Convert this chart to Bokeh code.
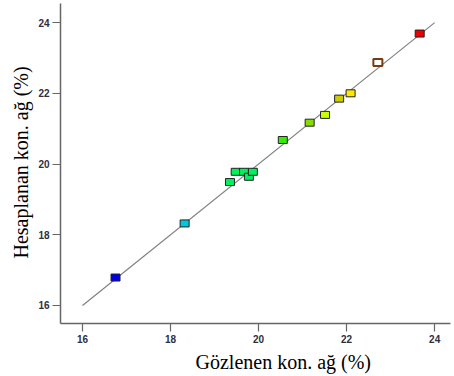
from bokeh.plotting import figure
from bokeh.models import Range1d, Title, ColumnDataSource, FixedTicker
from bokeh.embed import file_html
from bokeh.resources import INLINE

observed = [16.75, 18.32, 19.35, 19.48, 19.67, 19.78, 19.87, 20.55, 21.16, 21.51, 21.83, 22.09, 22.71, 23.66]
predicted = [16.79, 18.32, 19.49, 19.78, 19.78, 19.64, 19.78, 20.68, 21.17, 21.39, 21.85, 22.00, 22.87, 23.69]
fills = ["#0000EE", "#00C8D8", "#00F060", "#00F060", "#00F060", "#00F060", "#00F060",
         "#33EE00", "#88DD00", "#CCFF00", "#CCCC00", "#FFE800", "#FFFFFF", "#EE0000"]
edges = ["#222222"] * 12 + ["#7A3A10", "#222222"]
edge_w = [1] * 12 + [2, 1]
ref_line = [16, 24]
ticks = [16, 18, 20, 22, 24]
x_title = "Gözlenen kon. ağ (%)"
y_title = "Hesaplanan kon. ağ (%)"

p = figure(width=454, height=376, output_backend="svg", toolbar_location=None,
           x_range=Range1d(15.5, 24.36), y_range=Range1d(15.49, 24.54),
           min_border_left=60, min_border_right=4, min_border_top=3, min_border_bottom=53)
p.outline_line_color = None
p.xgrid.visible = False
p.ygrid.visible = False
p.background_fill_color = "white"
p.border_fill_color = "white"

p.line(ref_line, ref_line, line_color="#808080", line_width=1.2)

src = ColumnDataSource(dict(x=observed, y=predicted, f=fills, e=edges, w=edge_w))
p.rect("x", "y", width=9, height=7, width_units="screen", height_units="screen",
       fill_color="f", line_color="e", line_width="w", source=src)

for ax in (p.xaxis[0], p.yaxis[0]):
    ax.ticker = FixedTicker(ticks=ticks)
    ax.minor_tick_line_color = None
    ax.major_tick_in = 0
    ax.major_tick_out = 8
    ax.axis_line_color = "#666666"
    ax.axis_line_width = 1.5
    ax.major_tick_line_color = "#666666"
    ax.major_tick_line_width = 1.2
    ax.major_label_text_font = "Liberation Sans"
    ax.major_label_text_font_size = "10px"
    ax.major_label_text_font_style = "bold"
    ax.major_label_text_color = "#2e2e40"
    ax.major_label_standoff = 3

p.add_layout(Title(text=x_title, align="left", offset=135, standoff=7,
                   text_font="Liberation Serif", text_font_size="20px",
                   text_font_style="normal", text_color="black"), "below")
p.add_layout(Title(text=y_title, align="left", offset=65, standoff=7,
                   text_font="Liberation Serif", text_font_size="20px",
                   text_font_style="normal", text_color="black"), "left")

open("out.html", "w").write(file_html(p, INLINE))
